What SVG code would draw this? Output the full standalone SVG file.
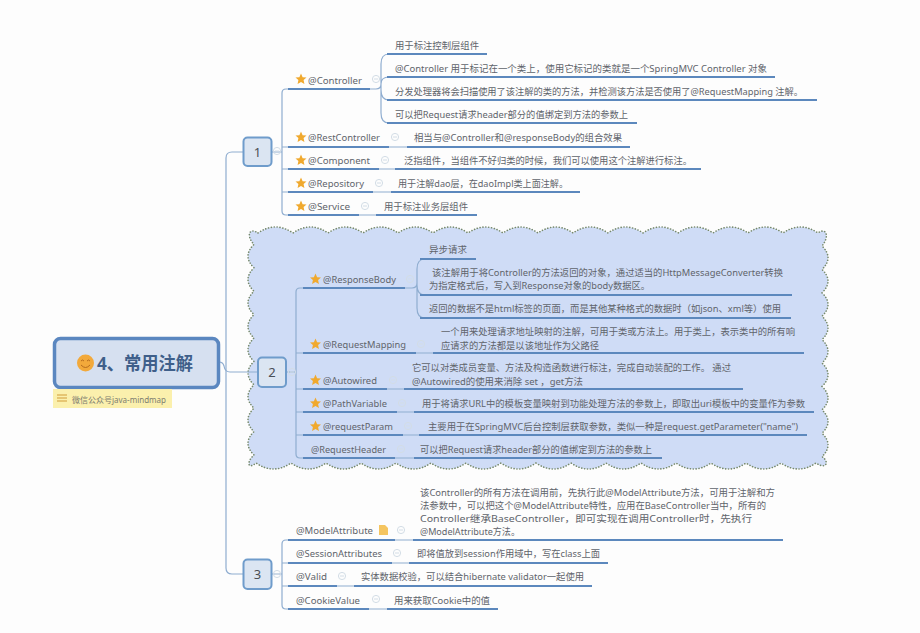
<svg xmlns="http://www.w3.org/2000/svg" width="920" height="633" viewBox="0 0 920 633">
<style>
text{font-family:"Noto Sans","Noto Sans CJK SC","Liberation Sans",sans-serif;font-size:9.5px;fill:#5f646b;dominant-baseline:central}
.u{stroke:#5c88bd;stroke-width:2;fill:none}
.c{stroke:#8fadd0;stroke-width:1.2;fill:none}
.box{fill:#dbe5f2;stroke:#6f9ccb;stroke-width:2}
.n{font-size:13px;fill:#4a4f55;text-anchor:middle}
.m{fill:none;stroke:#d3dde6;stroke-width:1}
</style>
<defs>
<polygon id="star" points="0,-5.5 1.6,-1.8 5.5,-1.5 2.6,1.1 3.4,5 0,2.9 -3.4,5 -2.6,1.1 -5.5,-1.5 -1.6,-1.8" fill="#f0a92e"/>
<g id="min"><circle r="3.6" class="m"/><path d="M-2 0H2" class="m"/></g>
</defs>
<rect width="920" height="633" fill="#fdfdfd"/>
<g id="cloud">
<path d="M258 233q17.500 -12 35 0 17.500 -12 35 0 17.500 -12 35 0 17.500 -12 35 0 17.500 -12 35 0 17.500 -12 35 0 17.500 -12 35 0 17.500 -12 35 0 17.500 -12 35 0 17.500 -12 35 0 17.500 -12 35 0 17.500 -12 35 0 17.500 -12 35 0 17.500 -12 35 0 17.500 -12 35 0 17.500 -12 35 0C826 227 830 236 822 246q12 11.700 0 23.400 12 11.700 0 23.400 12 11.700 0 23.400 12 11.700 0 23.400 12 11.700 0 23.400 12 11.700 0 23.400 12 11.700 0 23.400 12 11.700 0 23.400 12 11.700 0 23.400C830 462 826 470 816 463q-17.500 12 -35 0 -17.500 12 -35 0 -17.500 12 -35 0 -17.500 12 -35 0 -17.500 12 -35 0 -17.500 12 -35 0 -17.500 12 -35 0 -17.500 12 -35 0 -17.500 12 -35 0 -17.500 12 -35 0 -17.500 12 -35 0 -17.500 12 -35 0 -17.500 12 -35 0 -17.500 12 -35 0 -17.500 12 -35 0 -17.500 12 -35 0C248 470 246 462 254 455q-12 -11.700 0 -23.400 -12 -11.700 0 -23.400 -12 -11.700 0 -23.400 -12 -11.700 0 -23.400 -12 -11.700 0 -23.400 -12 -11.700 0 -23.400 -12 -11.700 0 -23.400 -12 -11.700 0 -23.400 -12 -11.700 0 -23.400C246 236 249 227 258 233z" fill="#cfdcf6" stroke="#76896c" stroke-width="1.600" stroke-dasharray="0.1 2.800" stroke-linecap="round"/>
</g>
<g id="connectors">
<path class="c" d="M219 362Q223 362 224 366Q225 372 230 372H258"/>
<path class="c" d="M243 152H232Q226 152 226 158V568Q226 574 232 574H243"/>
<path class="c" d="M272 152H282M288 89H286Q282 89 282 93V211Q282 215 286 215H288M282 147H288M282 169H288M282 192H288"/>
<path class="c" d="M286 372H296M303 288H300Q296 288 296 292V454Q296 458 300 458H303M296 353H303M296 389H303M296 412H303M296 435H303"/>
<path class="c" d="M272 574H282M288 540H286Q282 540 282 544V605Q282 609 286 609H288M282 563H288M282 586H288"/>
<path class="c" d="M370 89H376Q381 89 381 84V64Q381 54 389 54M381 84Q381 77 389 77M381 84V90Q381 100 389 100M381 90V113Q381 123 389 123"/>
<path class="c" d="M405 288H412Q417 288 417 283V269Q417 259 425 259M417 283V285Q417 295 425 295M417 285V308Q417 318 425 318"/>
<path class="c" d="M389 147H407M379 169H395M373 192H391M359 215H376M416 353H433M387 389H404M397 412H414M403 435H419M395 458H414M395 540H413M392 563H409M337 586H354M369 609H387"/>
</g>
<g id="root">
<rect x="54.500" y="338.500" width="164" height="49" rx="6" fill="#d6e0f0" stroke="#5b87c0" stroke-width="3.500"/>
<circle cx="85.500" cy="363" r="8.500" fill="#f2a93b"/>
<path d="M81 361q1.500 -2 3 0M87 361q1.500 -2 3 0M81 365q4.500 5 9 0" fill="none" stroke="#b56c1e" stroke-width="1"/>
<text x="97" y="362.500" textLength="96" lengthAdjust="spacingAndGlyphs" style="font-size:18px;font-weight:700;fill:#3f5f8a">4、常用注解</text>
</g>
<g id="note">
<rect x="53" y="389" width="119" height="19" fill="#fbf0ad"/>
<path d="M57 395H67M57 398H67M57 401H67" stroke="#e0b860" stroke-width="1.500"/>
<text x="72" y="399" textLength="94" lengthAdjust="spacingAndGlyphs" style="font-size:8.500px;fill:#7d7d70">微信公众号java-mindmap</text>
</g>
<g id="n1"><rect class="box" x="243.500" y="137.500" width="28" height="28.500" rx="4"/><text class="n" x="257.500" y="152">1</text><use href="#min" x="277" y="151"/></g>
<g id="n2"><rect class="box" x="258" y="357.500" width="28" height="29.500" rx="4"/><text class="n" x="272" y="372">2</text><use href="#min" x="292" y="372"/></g>
<g id="n3"><rect class="box" x="243.500" y="559.500" width="28" height="29.500" rx="4"/><text class="n" x="257.500" y="574">3</text><use href="#min" x="277" y="574"/></g>

<g id="controller"><use href="#star" x="301" y="79"/><text x="308" y="80" textLength="54" lengthAdjust="spacingAndGlyphs">@Controller</text><path class="u" d="M288 89H370"/><use href="#min" x="376" y="79"/>
<text x="395" y="45.500" textLength="84" lengthAdjust="spacingAndGlyphs">用于标注控制层组件</text><path class="u" d="M387 54H487"/>
<text x="395" y="68.500" textLength="372" lengthAdjust="spacingAndGlyphs">@Controller 用于标记在一个类上，使用它标记的类就是一个SpringMVC Controller 对象</text><path class="u" d="M387 77H775"/>
<text x="395" y="91.500" textLength="408" lengthAdjust="spacingAndGlyphs">分发处理器将会扫描使用了该注解的类的方法，并检测该方法是否使用了@RequestMapping 注解。</text><path class="u" d="M387 100H817"/>
<text x="395" y="114.500" textLength="233" lengthAdjust="spacingAndGlyphs">可以把Request请求header部分的值绑定到方法的参数上</text><path class="u" d="M387 123H637"/></g>
<g id="restcontroller"><use href="#star" x="301" y="137"/><text x="308" y="137.500" textLength="72" lengthAdjust="spacingAndGlyphs">@RestController</text><path class="u" d="M288 147H389M407 147H630"/><use href="#min" x="395" y="137"/><text x="414" y="137.500" textLength="208" lengthAdjust="spacingAndGlyphs">相当与@Controller和@responseBody的组合效果</text></g>
<g id="component"><use href="#star" x="301" y="160"/><text x="308" y="160" textLength="62" lengthAdjust="spacingAndGlyphs">@Component</text><path class="u" d="M288 169H379M395 169H701"/><use href="#min" x="385" y="160"/><text x="404" y="160" textLength="288" lengthAdjust="spacingAndGlyphs">泛指组件，当组件不好归类的时候，我们可以使用这个注解进行标注。</text></g>
<g id="repository"><use href="#star" x="301" y="183"/><text x="308" y="183" textLength="56" lengthAdjust="spacingAndGlyphs">@Repository</text><path class="u" d="M288 192H373M391 192H580"/><use href="#min" x="379" y="183"/><text x="398" y="183" textLength="170" lengthAdjust="spacingAndGlyphs">用于注解dao层，在daoImpl类上面注解。</text></g>
<g id="service"><use href="#star" x="301" y="206"/><text x="308" y="206" textLength="42" lengthAdjust="spacingAndGlyphs">@Service</text><path class="u" d="M288 215H359M376 215H477"/><use href="#min" x="365" y="206"/><text x="384" y="206" textLength="84" lengthAdjust="spacingAndGlyphs">用于标注业务层组件</text></g>

<g id="responsebody"><use href="#star" x="315.500" y="279"/><text x="323" y="279" textLength="73" lengthAdjust="spacingAndGlyphs">@ResponseBody</text><path class="u" d="M303 288H405"/><use href="#min" x="410" y="279"/>
<text x="429" y="249.500" textLength="38" lengthAdjust="spacingAndGlyphs">异步请求</text><path class="u" d="M420 259H476"/>
<text x="432" y="272.500" textLength="351" lengthAdjust="spacingAndGlyphs">该注解用于将Controller的方法返回的对象，通过适当的HttpMessageConverter转换</text>
<text x="429" y="285.500" textLength="221" lengthAdjust="spacingAndGlyphs">为指定格式后，写入到Response对象的body数据区。</text><path class="u" d="M420 295H792"/>
<text x="429" y="308.500" textLength="352" lengthAdjust="spacingAndGlyphs">返回的数据不是html标签的页面，而是其他某种格式的数据时（如json、xml等）使用</text><path class="u" d="M420 318H791"/></g>
<g id="requestmapping"><use href="#star" x="315.500" y="344"/><text x="323" y="344" textLength="83" lengthAdjust="spacingAndGlyphs">@RequestMapping</text><path class="u" d="M303 353H416M433 353H804"/><use href="#min" x="421" y="344"/>
<text x="441" y="331" textLength="354" lengthAdjust="spacingAndGlyphs">一个用来处理请求地址映射的注解，可用于类或方法上。用于类上，表示类中的所有响</text>
<text x="441" y="345" textLength="158" lengthAdjust="spacingAndGlyphs">应请求的方法都是以该地址作为父路径</text></g>
<g id="autowired"><use href="#star" x="315.500" y="380"/><text x="323" y="380" textLength="54" lengthAdjust="spacingAndGlyphs">@Autowired</text><path class="u" d="M303 389H387M404 389H743"/><use href="#min" x="393" y="380"/>
<text x="412" y="367" textLength="319" lengthAdjust="spacingAndGlyphs">它可以对类成员变量、方法及构造函数进行标注，完成自动装配的工作。 通过</text>
<text x="412" y="381" textLength="171" lengthAdjust="spacingAndGlyphs">@Autowired的使用来消除 set ，get方法</text></g>
<g id="pathvariable"><use href="#star" x="315.500" y="403"/><text x="323" y="403" textLength="64" lengthAdjust="spacingAndGlyphs">@PathVariable</text><path class="u" d="M303 412H397M414 412H814"/><use href="#min" x="402" y="403"/><text x="422" y="403" textLength="383" lengthAdjust="spacingAndGlyphs">用于将请求URL中的模板变量映射到功能处理方法的参数上，即取出uri模板中的变量作为参数</text></g>
<g id="requestparam"><use href="#star" x="315.500" y="426"/><text x="323" y="426" textLength="70" lengthAdjust="spacingAndGlyphs">@requestParam</text><path class="u" d="M303 435H403M419 435H807"/><use href="#min" x="408" y="426"/><text x="428" y="426" textLength="370" lengthAdjust="spacingAndGlyphs">主要用于在SpringMVC后台控制层获取参数，类似一种是request.getParameter("name")</text></g>
<g id="requestheader"><text x="311" y="449" textLength="75" lengthAdjust="spacingAndGlyphs">@RequestHeader</text><path class="u" d="M303 458H395M414 458H662"/><use href="#min" x="401" y="449"/><text x="420" y="449" textLength="232" lengthAdjust="spacingAndGlyphs">可以把Request请求header部分的值绑定到方法的参数上</text></g>

<g id="modelattribute"><text x="296" y="530.500" textLength="77" lengthAdjust="spacingAndGlyphs">@ModelAttribute</text><path d="M379 525h6l3 3v7h-9z" fill="#f5c560"/><path class="u" d="M288 540H395M413 540H783"/><use href="#min" x="401" y="530"/>
<text x="420" y="492.500" textLength="355" lengthAdjust="spacingAndGlyphs">该Controller的所有方法在调用前，先执行此@ModelAttribute方法，可用于注解和方</text>
<text x="420" y="505.500" textLength="346" lengthAdjust="spacingAndGlyphs">法参数中，可以把这个@ModelAttribute特性，应用在BaseController当中，所有的</text>
<text x="420" y="518.500" textLength="332" lengthAdjust="spacingAndGlyphs">Controller继承BaseController，即可实现在调用Controller时，先执行</text>
<text x="420" y="531.500" textLength="100" lengthAdjust="spacingAndGlyphs">@ModelAttribute方法。</text></g>
<g id="sessionattributes"><text x="296" y="553.500" textLength="86" lengthAdjust="spacingAndGlyphs">@SessionAttributes</text><path class="u" d="M288 563H392M409 563H608"/><use href="#min" x="397" y="553"/><text x="417" y="553.500" textLength="183" lengthAdjust="spacingAndGlyphs">即将值放到session作用域中，写在class上面</text></g>
<g id="valid"><text x="296" y="576.500" textLength="31" lengthAdjust="spacingAndGlyphs">@Valid</text><path class="u" d="M288 586H337M354 586H592"/><use href="#min" x="342" y="576"/><text x="361" y="576.500" textLength="223" lengthAdjust="spacingAndGlyphs">实体数据校验，可以结合hibernate validator一起使用</text></g>
<g id="cookievalue"><text x="296" y="600" textLength="64" lengthAdjust="spacingAndGlyphs">@CookieValue</text><path class="u" d="M288 609H369M387 609H498"/><use href="#min" x="376" y="599"/><text x="394" y="600" textLength="96" lengthAdjust="spacingAndGlyphs">用来获取Cookie中的值</text></g>
</svg>
